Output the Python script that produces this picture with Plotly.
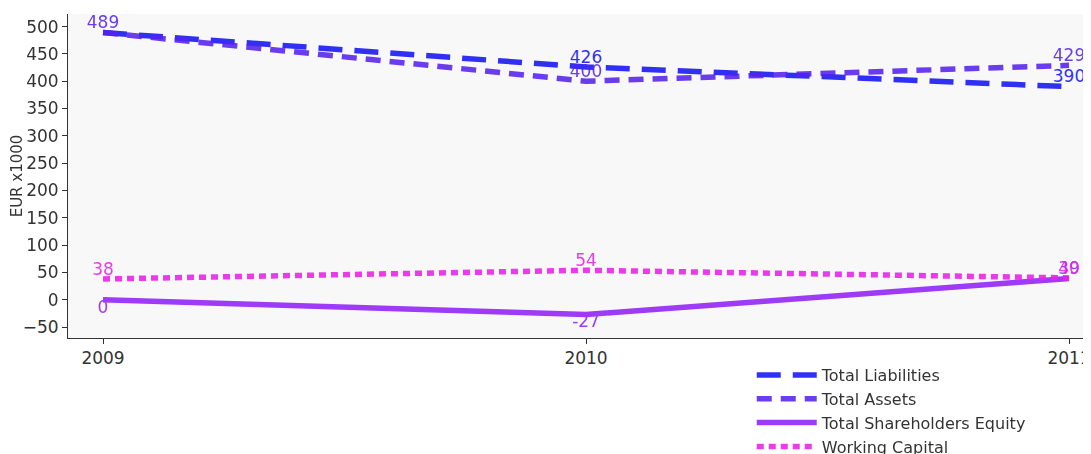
import plotly.graph_objects as go

years = [2009, 2010, 2011]
total_liabilities = [489, 426, 390]
total_assets = [489, 400, 429]
total_equity = [0, -27, 39]
working_capital = [38, 54, 40]

series = [
    ("Total Liabilities", total_liabilities, "#1515f5", "24px,12px", ["top center", "top center", "top center"], ["", "426", "390"]),
    ("Total Assets", total_assets, "#5522ee", "15px,9px", ["top center", "top center", "top center"], None),
    ("Total Shareholders Equity", total_equity, "#9020f8", "solid", ["bottom center", "bottom center", "top center"], None),
    ("Working Capital", working_capital, "#e820e8", "7px,5px", ["top center", "top center", "top center"], None),
]

fig = go.Figure()
for name, vals, color, dash, tpos, txt in series:
    fig.add_trace(go.Scatter(
        x=years, y=vals, name=name, mode="lines+text",
        line=dict(color=color, width=5.5, dash=dash),
        opacity=0.88,
        text=txt if txt is not None else [str(v) for v in vals],
        textposition=tpos,
        textfont=dict(color=color, size=17, family="DejaVu Sans"),
        cliponaxis=False,
    ))

fig.update_layout(
    width=1096, height=454,
    margin=dict(l=60, r=0, t=6, b=124, autoexpand=False),
    paper_bgcolor="white",
    plot_bgcolor="#f8f8f8",
    font=dict(family="DejaVu Sans", size=15, color="#333333"),
    showlegend=True,
    legend=dict(x=0.66, y=-0.062, xanchor="left", yanchor="top",
                font=dict(size=16, color="#333333"), itemwidth=60,
                tracegroupgap=0, bgcolor="rgba(0,0,0,0)"),
    xaxis=dict(range=[2008.9275, 2011.0724], tickvals=years, ticktext=[str(y) for y in years],
               showgrid=False, zeroline=False, showline=True, linecolor="#333333",
               ticks="outside", ticklen=5, tickcolor="#333333", tickfont=dict(size=17)),
    yaxis=dict(range=[-70, 523], dtick=50, showgrid=False, zeroline=False,
               showline=True, linecolor="#333333", ticks="outside", ticklen=5,
               tickcolor="#333333", tickfont=dict(size=17),
               title=dict(text="EUR x1000", font=dict(size=15), standoff=2)),
)

fig.write_html("out.html")
